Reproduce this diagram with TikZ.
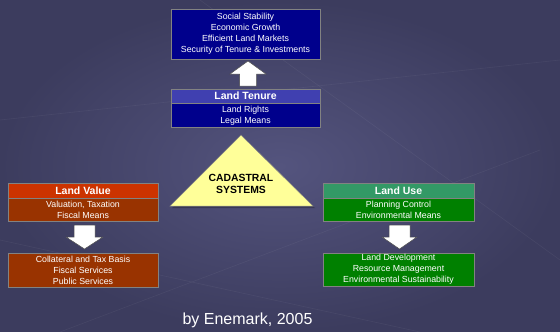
\documentclass[tikz,border=0pt]{standalone}
\usepackage{fontspec}
\setmainfont{Liberation Sans}
\usetikzlibrary{shapes.geometric}
\definecolor{bgin}{RGB}{84,84,126}
\definecolor{bgout}{RGB}{60,60,94}
\definecolor{navy}{RGB}{0,0,140}
\definecolor{navyhead}{RGB}{64,64,176}
\definecolor{valhead}{RGB}{204,51,0}
\definecolor{valbody}{RGB}{153,51,0}
\definecolor{usehead}{RGB}{51,153,102}
\definecolor{usebody}{RGB}{0,128,0}
\definecolor{tri}{RGB}{255,255,153}
\definecolor{edge}{RGB}{130,130,130}
\tikzset{
  box/.style={draw=edge, line width=0.6pt, inner sep=0pt, text=white, align=center,
    font=\fontsize{8.8}{11}\selectfont},
  headbox/.style={box, font=\bfseries\fontsize{10.5}{12}\selectfont},
  blockarrow/.style={fill=white, draw=black!70, line width=0.5pt},
}
\begin{document}
\begin{tikzpicture}[x=1pt,y=-1pt]
\useasboundingbox (0,0) rectangle (560,332);
\shade[inner color=bgin, outer color=bgout] (0,0) rectangle (560,332);
\begin{scope}[draw=white, opacity=0.05, line width=0.6pt]
\draw (0,120) -- (560,60);
\draw (60,332) -- (540,150);
\draw (0,240) -- (420,332);
\draw (200,0) -- (560,260);
\end{scope}
% top outcome box
\node[box, fill=navy, minimum width=149pt, minimum height=50pt] (top) at (245.5,34)
  {Social Stability\\Economic Growth\\Efficient Land Markets\\Security of Tenure \& Investments};
% land tenure
\node[headbox, fill=navyhead, minimum width=149pt, minimum height=14pt] (tenh) at (245.5,96) {Land Tenure};
\node[box, fill=navy, minimum width=149pt, minimum height=24pt, anchor=north] (tenb) at (tenh.south) {Land Rights\\Legal Means};
% land value
\node[headbox, fill=valhead, minimum width=150pt, minimum height=15pt] (valh) at (83,190.5) {Land Value};
\node[box, fill=valbody, minimum width=150pt, minimum height=23pt, anchor=north] (valb) at (valh.south) {Valuation, Taxation\\Fiscal Means};
\node[box, fill=valbody, minimum width=150pt, minimum height=34pt] (valo) at (83,270)
  {Collateral and Tax Basis\\Fiscal Services\\Public Services};
% land use
\node[headbox, fill=usehead, minimum width=151pt, minimum height=15pt] (useh) at (398.5,190.5) {Land Use};
\node[box, fill=usebody, minimum width=151pt, minimum height=23pt, anchor=north] (useb) at (useh.south) {Planning Control\\Environmental Means};
\node[box, fill=usebody, minimum width=151pt, minimum height=33pt] (useo) at (398.5,269.5)
  {Land Development\\Resource Management\\Environmental Sustainability};
% triangle
\coordinate (apex) at (241,135);
\coordinate (bl) at (170,206);
\coordinate (br) at (313,206);
\draw[fill=black, opacity=0.25, draw=none] ([shift={(2,2)}]apex) -- ([shift={(2,2)}]br) -- ([shift={(2,2)}]bl) -- cycle;
\draw[fill=tri, draw=edge, line width=0.5pt] (apex) -- (br) -- (bl) -- cycle;
\node[font=\bfseries\fontsize{10.4}{12}\selectfont, align=center, text=black] (cad) at (241,184) {CADASTRAL\\SYSTEMS};
% block arrows
\draw[blockarrow] (248,61) -- (266,74) -- (256.5,74) -- (256.5,86) -- (239.5,86) -- (239.5,74) -- (230,74) -- cycle;
\draw[blockarrow] (84.5,249) -- (103,237) -- (95,237) -- (95,225) -- (74,225) -- (74,237) -- (66,237) -- cycle;
\draw[blockarrow] (399.5,249) -- (417,237) -- (410,237) -- (410,225) -- (389,225) -- (389,237) -- (382,237) -- cycle;
% credit
\node[text=white, font=\fontsize{16}{18}\selectfont] (credit) at (247.5,320) {by Enemark, 2005};
\end{tikzpicture}
\end{document}
